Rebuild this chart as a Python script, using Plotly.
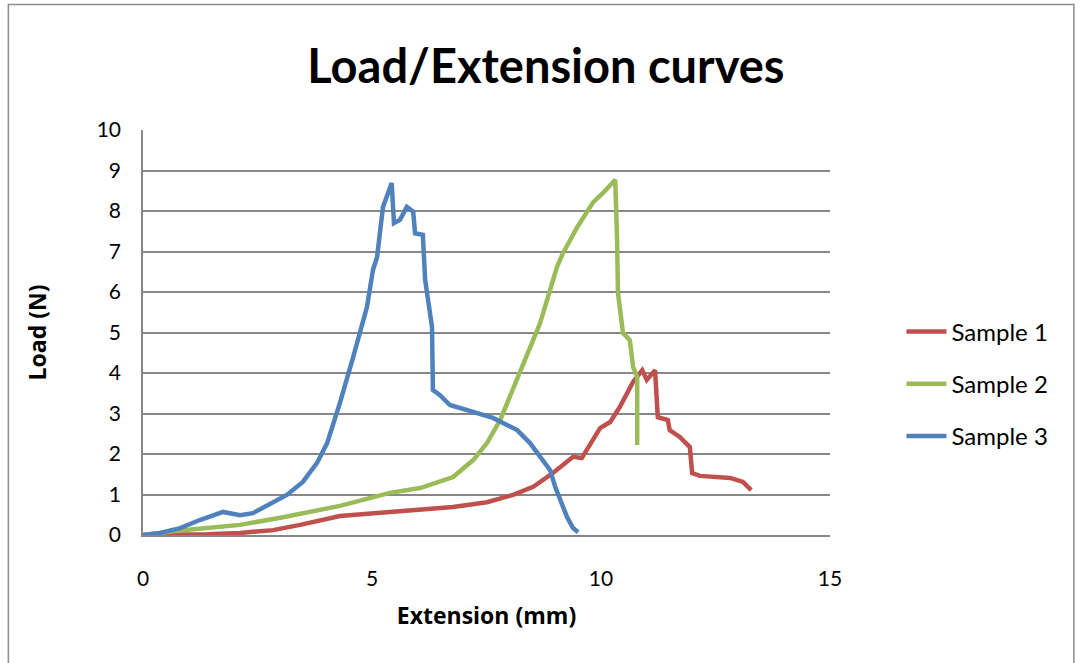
import plotly.graph_objects as go

# Sample 1 (red)
s1_x = [0.0, 0.6, 1.4, 2.12, 2.84, 3.43, 4.3, 5.39, 6.05, 6.77, 7.51, 8.08, 8.52, 8.95, 9.39,
        9.58, 9.98, 10.2, 10.41, 10.7, 10.9, 11.0, 11.18, 11.24, 11.46, 11.5, 11.72,
        11.94, 11.99, 12.16, 12.82, 13.1, 13.28]
s1_y = [0.0, 0.0, 0.02, 0.05, 0.12, 0.25, 0.47, 0.57, 0.62, 0.69, 0.81, 0.99, 1.19, 1.53, 1.93,
        1.9, 2.64, 2.79, 3.16, 3.78, 4.07, 3.83, 4.07, 2.91, 2.84, 2.59, 2.42,
        2.17, 1.53, 1.46, 1.41, 1.31, 1.11]

# Sample 2 (green)
s2_x = [0.0, 0.37, 0.87, 2.12, 3.06, 4.3, 5.39, 6.05, 6.77, 7.21, 7.51, 7.8, 8.17, 8.67, 9.04,
        9.17, 9.48, 9.83, 10.04, 10.31, 10.35, 10.37, 10.48, 10.63, 10.7, 10.79, 10.79]
s2_y = [0.0, 0.05, 0.12, 0.25, 0.44, 0.72, 1.04, 1.16, 1.43, 1.85, 2.27, 2.84, 3.83, 5.23, 6.62,
        6.96, 7.6, 8.22, 8.44, 8.77, 7.36, 5.98, 4.99, 4.81, 4.15, 3.9, 2.22]

# Sample 3 (blue)
s3_x = [0.0, 0.37, 0.81, 1.24, 1.75, 2.12, 2.4, 2.84, 3.14, 3.49, 3.8, 4.02, 4.19, 4.3, 4.59,
        4.89, 5.02, 5.11, 5.24, 5.33, 5.43, 5.48, 5.61, 5.76, 5.9, 5.94, 6.11, 6.16, 6.22,
        6.31, 6.33, 6.48, 6.7, 7.21, 7.64, 8.17, 8.45, 8.89, 9.0, 9.26, 9.39, 9.5]
s3_y = [0.0, 0.05, 0.17, 0.37, 0.57, 0.49, 0.54, 0.79, 0.99, 1.31, 1.78, 2.27, 2.84, 3.26, 4.4,
        5.63, 6.54, 6.86, 8.1, 8.4, 8.69, 7.7, 7.78, 8.1, 7.98, 7.45, 7.41, 6.3, 5.8,
        5.14, 3.58, 3.46, 3.21, 3.04, 2.89, 2.59, 2.27, 1.6, 1.19, 0.44, 0.17, 0.07]

series = [("Sample 1", s1_x, s1_y, "#C0504D"),
          ("Sample 2", s2_x, s2_y, "#9BBB59"),
          ("Sample 3", s3_x, s3_y, "#4F81BD")]

font_family = "Lato, Calibri, 'Open Sans', sans-serif"
title_family = "'Open Sans', Calibri, sans-serif"

fig = go.Figure()
for i, (name, xs, ys, col) in enumerate(series):
    fig.add_trace(go.Scatter(x=xs, y=ys, mode="lines", name=name, legendgroup=f"g{i}",
                             line=dict(color=col, width=4.5, shape="linear")))

fig.update_layout(
    width=1081, height=663,
    margin=dict(l=143, r=251, t=130, b=128),
    paper_bgcolor="white", plot_bgcolor="white",
    font=dict(family=font_family, color="black", size=21),
    title=dict(text="<b>Load/Extension curves</b>", x=0.505, xanchor="center",
               y=0.90, yanchor="middle", font=dict(size=47, family=font_family)),
    showlegend=True,
    legend=dict(x=1.104, xanchor="left", y=0.557, yanchor="top",
                font=dict(size=24, family=font_family), tracegroupgap=18,
                bgcolor="rgba(0,0,0,0)", itemwidth=40),
    shapes=[dict(type="rect", xref="paper", yref="paper", x0=-0.196, x1=1.355,
                 y0=-0.40, y1=1.31, line=dict(color="#8c8c8c", width=1.5),
                 fillcolor="rgba(0,0,0,0)", layer="below")],
)
fig.update_xaxes(range=[0, 15], tickvals=[0, 5, 10, 15], showgrid=False,
                 showline=True, linecolor="#878787", linewidth=1.5, ticks="",
                 zeroline=False, ticklen=0, ticklabelstandoff=24,
                 title=dict(text="<b>Extension (mm)</b>", standoff=19,
                            font=dict(size=23, family=title_family)),
                 tickfont=dict(size=21))
fig.update_yaxes(range=[0, 10], tickvals=list(range(0, 11)), showgrid=True,
                 gridcolor="#878787", gridwidth=1.5, showline=True, linecolor="#878787",
                 linewidth=1.5, zeroline=False, ticks="", ticklabelstandoff=16,
                 title=dict(text="<b>Load (N)</b>", standoff=44,
                            font=dict(size=23, family=title_family)),
                 tickfont=dict(size=21))

fig.write_html("out.html")
